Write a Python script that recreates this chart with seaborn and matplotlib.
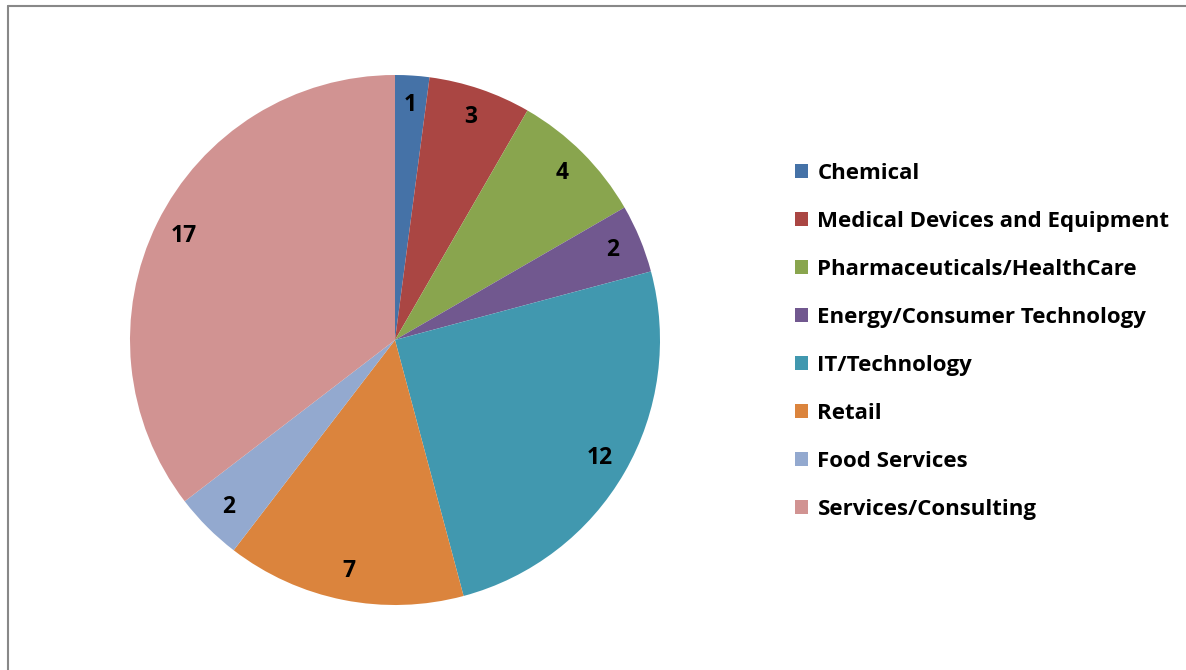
import matplotlib
matplotlib.use("Agg")
import matplotlib.pyplot as plt
import seaborn as sns
from matplotlib.patches import Rectangle
from matplotlib.lines import Line2D

sectors = ["Chemical", "Medical Devices and Equipment", "Pharmaceuticals/HealthCare",
           "Energy/Consumer Technology", "IT/Technology", "Retail", "Food Services",
           "Services/Consulting"]
counts = [1, 3, 4, 2, 12, 7, 2, 17]
colors = ["#4572A7", "#AA4643", "#89A54E", "#71588F", "#4198AF", "#DB843D",
          "#93A9CF", "#D19392"]

sns.set_style("white")
plt.rcParams["font.family"] = ["Open Sans", "DejaVu Sans"]
plt.rcParams["text.color"] = "black"

W, H = 1186, 670
fig = plt.figure(figsize=(W / 100, H / 100), dpi=100)

# chart area border (Excel style), only top and left visible in the crop
fig.add_artist(Line2D([8 / W, 8 / W], [0, 1 - 6 / H], color="#888888", lw=1.5,
                      transform=fig.transFigure))
fig.add_artist(Line2D([8 / W, 1], [1 - 6 / H, 1 - 6 / H], color="#888888", lw=1.5,
                      transform=fig.transFigure))

cx, cy, r = 395, 340, 265
ax = fig.add_axes([(cx - r) / W, (H - cy - r) / H, 2 * r / W, 2 * r / H])

total = sum(counts)
wedges, _, autotexts = ax.pie(
    counts, colors=colors, startangle=90, counterclock=False, radius=1,
    autopct=lambda p: "{:d}".format(int(round(p * total / 100))),
    pctdistance=0.89, wedgeprops=dict(linewidth=0),
    textprops=dict(fontsize=16.5, fontweight="bold", color="black"))
ax.set_xlim(-1, 1)
ax.set_ylim(-1, 1)
ax.set_aspect("equal")
ax.axis("off")

handles = [Rectangle((0, 0), 1, 1, facecolor=c, edgecolor="none") for c in colors]
leg = fig.legend(handles, sectors, loc="upper left",
                 bbox_to_anchor=(777 / W, 1 - 145 / H), frameon=False,
                 prop=dict(size=16, weight="bold"), handlelength=0.6,
                 handleheight=0.6, handletextpad=0.42, labelspacing=1.215,
                 borderpad=0.3)

fig.savefig("out.png", dpi=100, facecolor="white")
